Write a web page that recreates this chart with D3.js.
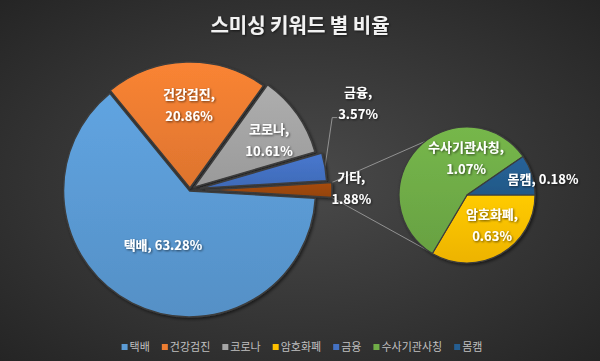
<!DOCTYPE html>
<html>
<head>
<meta charset="utf-8">
<script src="https://cdn.jsdelivr.net/npm/d3@7"></script>
<style>
  html, body { margin: 0; padding: 0; background: #333; }
  svg { display: block; font-family: "Noto Sans CJK KR", "Noto Sans", sans-serif; }
</style>
</head>
<body>
<div id="chart"></div>
<script>
// data
const mainCats = ['택배', '건강검진', '코로나', '금융', '기타'];
const mainVals = [63.28, 20.86, 10.61, 3.57, 1.88];
const subCats = ['암호화폐', '수사기관사칭', '몸캠'];
const subVals = [0.63, 1.07, 0.18];
const legendCats = ['택배', '건강검진', '코로나', '암호화폐', '금융', '수사기관사칭', '몸캠'];
const titleText = '스미싱 키워드 별 비율';

const colors = {
  '택배': '#5b9bd5', '건강검진': '#ed7d31', '코로나': '#a5a5a5', '암호화폐': '#ffc000',
  '금융': '#4472c4', '수사기관사칭': '#70ad47', '몸캠': '#255e91', '기타': '#9e480e'
};

// layout
const W = 600, H = 361;
const mainC = [190, 190], mainR = 126;
const subC = [467, 195], subR = 68;
const explode = { '택배': 1, '건강검진': 2, '코로나': 5, '금융': 11, '기타': 16 };
// label placement: [angle deg clockwise from top, radius fraction]
const labelPos = {
  '택배': [206, 0.49], '건강검진': [359.3, 0.67], '코로나': [58, 0.74], '금융': [62.8, 1.5],
  '기타': [89.6, 1.28], '암호화폐': [141, 0.585], '수사기관사칭': [358.5, 0.544], '몸캠': [78.8, 1.14]
};
const oneLine = ['택배', '몸캠'];

const svg = d3.select('#chart').append('svg').attr('width', W).attr('height', H);
const defs = svg.append('defs');

const bg = defs.append('radialGradient').attr('id', 'bg')
  .attr('cx', '50%').attr('cy', '50%').attr('r', '72%');
bg.append('stop').attr('offset', '0%').attr('stop-color', '#4a4a4a');
bg.append('stop').attr('offset', '100%').attr('stop-color', '#242424');
svg.append('rect').attr('width', W).attr('height', H).attr('fill', 'url(#bg)');

const gradId = {};
Object.keys(colors).forEach((k, i) => {
  const c = colors[k];
  const g = defs.append('linearGradient').attr('id', 'g' + i)
    .attr('x1', 0).attr('y1', 0).attr('x2', 0).attr('y2', 1);
  g.append('stop').attr('offset', '0%').attr('stop-color', d3.color(c).brighter(0.15));
  g.append('stop').attr('offset', '100%').attr('stop-color', d3.color(c).darker(0.2));
  gradId[k] = 'url(#g' + i + ')';
});

const sh = defs.append('filter').attr('id', 'shadow')
  .attr('x', '-20%').attr('y', '-20%').attr('width', '140%').attr('height', '140%');
sh.append('feDropShadow').attr('dx', 1.5).attr('dy', 1.5).attr('stdDeviation', 1.5)
  .attr('flood-color', '#000').attr('flood-opacity', 0.55);
const tsh = defs.append('filter').attr('id', 'tshadow')
  .attr('x', '-10%').attr('y', '-30%').attr('width', '120%').attr('height', '160%');
tsh.append('feDropShadow').attr('dx', 1).attr('dy', 1).attr('stdDeviation', 0.8)
  .attr('flood-color', '#000').attr('flood-opacity', 0.6);

// title
svg.append('text')
  .attr('x', W / 2).attr('y', 26).attr('dy', '0.35em')
  .attr('text-anchor', 'middle')
  .attr('fill', '#f2f2f2').attr('font-size', 20).attr('font-weight', 'bold')
  .attr('filter', 'url(#tshadow)')
  .text(titleText);

const polar = (c, a, r) => [c[0] + r * Math.sin(a), c[1] - r * Math.cos(a)];

// main pie, "기타" centred on 3 o'clock
const total = d3.sum(mainVals);
const half = Math.PI * mainVals[mainVals.length - 1] / total;
const mainPie = d3.pie().sort(null).value(d => d.v)
  .startAngle(Math.PI / 2 + half).endAngle(Math.PI / 2 + half + 2 * Math.PI);
const mainArcs = mainPie(mainVals.map((v, i) => ({ cat: mainCats[i], v })));
const arcMain = d3.arc().innerRadius(0).outerRadius(mainR);

const offsetOf = d => {
  const mid = (d.startAngle + d.endAngle) / 2;
  const e = explode[d.data.cat] || 0;
  return [e * Math.sin(mid), -e * Math.cos(mid)];
};

// sub pie
const subPie = d3.pie().sort(null).value(d => d.v)
  .startAngle(Math.PI / 2).endAngle(Math.PI / 2 + 2 * Math.PI);
const subArcs = subPie(subVals.map((v, i) => ({ cat: subCats[i], v })));
const arcSub = d3.arc().innerRadius(0).outerRadius(subR);

// connector lines
const other = mainArcs[mainArcs.length - 1];
const oo = offsetOf(other);
const oc = [mainC[0] + oo[0], mainC[1] + oo[1]];
const p1 = polar(oc, other.startAngle, mainR);
const p2 = polar(oc, other.endAngle, mainR);
const q1 = polar(subC, 322 * Math.PI / 180, subR);
const q2 = polar(subC, 215 * Math.PI / 180, subR);
svg.append('g').selectAll('line').data([[p1, q1], [p2, q2]]).join('line')
  .attr('x1', d => d[0][0]).attr('y1', d => d[0][1])
  .attr('x2', d => d[1][0]).attr('y2', d => d[1][1])
  .attr('stroke', '#a6a6a6').attr('stroke-width', 0.8);

const gMain = svg.append('g').attr('filter', 'url(#shadow)');
gMain.selectAll('path').data(mainArcs).join('path')
  .attr('transform', d => {
    const o = offsetOf(d);
    return `translate(${mainC[0] + o[0]},${mainC[1] + o[1]})`;
  })
  .attr('d', arcMain)
  .attr('fill', d => gradId[d.data.cat])
  .attr('stroke', '#3c3c3c').attr('stroke-width', 1.5).attr('stroke-linejoin', 'round');

const gSub = svg.append('g').attr('filter', 'url(#shadow)')
  .attr('transform', `translate(${subC[0]},${subC[1]})`);
gSub.selectAll('path').data(subArcs).join('path')
  .attr('d', arcSub)
  .attr('fill', d => gradId[d.data.cat])
  .attr('stroke', '#3c3c3c').attr('stroke-width', 1.2).attr('stroke-linejoin', 'round');

// labels
const gLab = svg.append('g').attr('filter', 'url(#tshadow)');
function addLabel(cat, val, c, r) {
  const lp = labelPos[cat];
  const p = polar(c, lp[0] * Math.PI / 180, lp[1] * r);
  const t = gLab.append('text')
    .attr('text-anchor', 'middle')
    .attr('fill', '#ffffff').attr('font-size', 13).attr('font-weight', 'bold');
  const pct = val.toFixed(2) + '%';
  if (oneLine.includes(cat)) {
    t.append('tspan').attr('x', p[0]).attr('y', p[1]).attr('dy', '0.35em').text(cat + ', ' + pct);
  } else {
    t.append('tspan').attr('x', p[0]).attr('y', p[1] - 11).attr('dy', '0.35em').text(cat + ',');
    t.append('tspan').attr('x', p[0]).attr('y', p[1] + 11).attr('dy', '0.35em').text(pct);
  }
  return { t, p };
}
mainArcs.forEach(d => {
  const lab = addLabel(d.data.cat, d.data.v, mainC, mainR);
  if (d.data.cat === '금융') {
    const bb = lab.t.node().getBBox();
    const o = offsetOf(d);
    const sp = polar([mainC[0] + o[0], mainC[1] + o[1]], (d.startAngle + d.endAngle) / 2, mainR);
    const y0 = lab.p[1] + 14;
    svg.insert('path', 'g')
      .attr('d', `M${bb.x - 1},${y0}H${bb.x - 6}L${sp[0]},${sp[1]}`)
      .attr('fill', 'none').attr('stroke', '#a6a6a6').attr('stroke-width', 0.8);
  }
});
subArcs.forEach(d => addLabel(d.data.cat, d.data.v, subC, subR));

// legend
const gLeg = svg.append('g');
let lx = 0;
legendCats.forEach(cat => {
  gLeg.append('rect').attr('x', lx).attr('y', -3).attr('width', 6).attr('height', 6)
    .attr('fill', colors[cat]);
  const t = gLeg.append('text').attr('x', lx + 8).attr('y', 0).attr('dy', '0.35em')
    .attr('fill', '#c0c0c0').attr('font-size', 11).text(cat);
  lx += 8 + t.node().getComputedTextLength() + 12;
});
const legW = lx - 12;
gLeg.attr('transform', `translate(${302 - legW / 2},347)`);
</script>
</body>
</html>
